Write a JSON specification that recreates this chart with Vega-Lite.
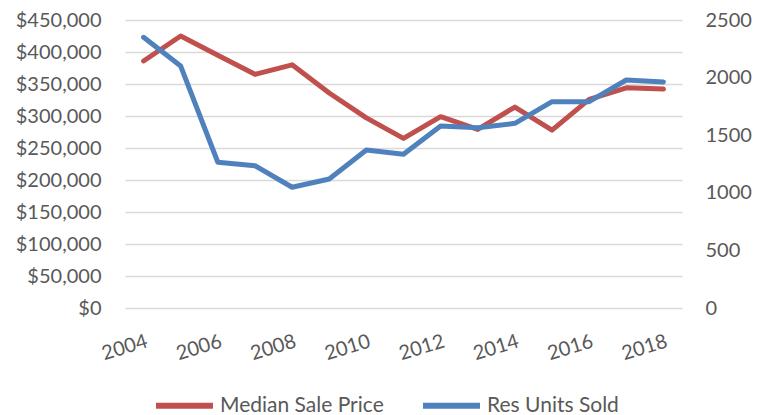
{
  "$schema": "https://vega.github.io/schema/vega-lite/v6.json",
  "width": 557,
  "height": 288,
  "autosize": {"type": "none"},
  "padding": {"left": 125, "top": 20, "right": 86, "bottom": 107},
  "background": "white",
  "config": {
    "view": {"stroke": null},
    "font": "Lato",
    "axis": {"labelFont": "Lato", "labelColor": "#595959", "labelFontSize": 20, "domain": false, "ticks": false, "title": null}
  },
  "data": {
    "values": [
      {"year": 2004, "price": 386000, "units": 2350},
      {"year": 2005, "price": 425000, "units": 2100},
      {"year": 2006, "price": 395000, "units": 1265},
      {"year": 2007, "price": 365000, "units": 1235},
      {"year": 2008, "price": 380000, "units": 1048},
      {"year": 2009, "price": 336000, "units": 1120},
      {"year": 2010, "price": 297000, "units": 1372},
      {"year": 2011, "price": 265000, "units": 1334},
      {"year": 2012, "price": 299000, "units": 1580},
      {"year": 2013, "price": 279000, "units": 1565},
      {"year": 2014, "price": 314000, "units": 1603},
      {"year": 2015, "price": 278000, "units": 1791},
      {"year": 2016, "price": 326000, "units": 1791},
      {"year": 2017, "price": 344000, "units": 1979},
      {"year": 2018, "price": 342000, "units": 1962}
    ]
  },
  "encoding": {
    "x": {
      "field": "year", "type": "quantitative",
      "scale": {"domain": [2003.5, 2018.5], "nice": false, "zero": false},
      "axis": {"values": [2004, 2006, 2008, 2010, 2012, 2014, 2016, 2018], "format": "d", "grid": false, "labelAngle": -17, "labelAlign": "right", "labelBaseline": "top", "labelPadding": 23}
    }
  },
  "layer": [
    {
      "mark": {"type": "line", "strokeWidth": 5, "strokeCap": "round", "strokeJoin": "round"},
      "encoding": {
        "y": {
          "field": "price", "type": "quantitative",
          "scale": {"domain": [0, 450000], "nice": false},
          "axis": {"orient": "left", "values": [0, 50000, 100000, 150000, 200000, 250000, 300000, 350000, 400000, 450000], "format": "$,.0f", "grid": true, "gridColor": "#D9D9D9", "gridWidth": 1.3, "labelPadding": 24}
        },
        "color": {
          "datum": "Median Sale Price",
          "type": "nominal",
          "scale": {"domain": ["Median Sale Price", "Res Units Sold"], "range": ["#C0504D", "#4F81BD"]},
          "legend": {
            "title": null, "orient": "none", "direction": "horizontal", "legendX": 28, "legendY": 354,
            "symbolType": "stroke", "symbolSize": 3249, "symbolStrokeWidth": 6, "labelFontSize": 21, "labelFont": "Lato", "labelColor": "#595959", "labelOffset": 4, "labelLimit": 400, "columnPadding": 27, "padding": 0
          }
        }
      }
    },
    {
      "mark": {"type": "line", "strokeWidth": 5, "strokeCap": "round", "strokeJoin": "round"},
      "encoding": {
        "y": {
          "field": "units", "type": "quantitative",
          "scale": {"domain": [0, 2500], "nice": false},
          "axis": {"orient": "right", "values": [0, 500, 1000, 1500, 2000, 2500], "format": "d", "grid": false, "labelPadding": 23}
        },
        "color": {"datum": "Res Units Sold", "type": "nominal"}
      }
    }
  ],
  "resolve": {"scale": {"y": "independent"}}
}
